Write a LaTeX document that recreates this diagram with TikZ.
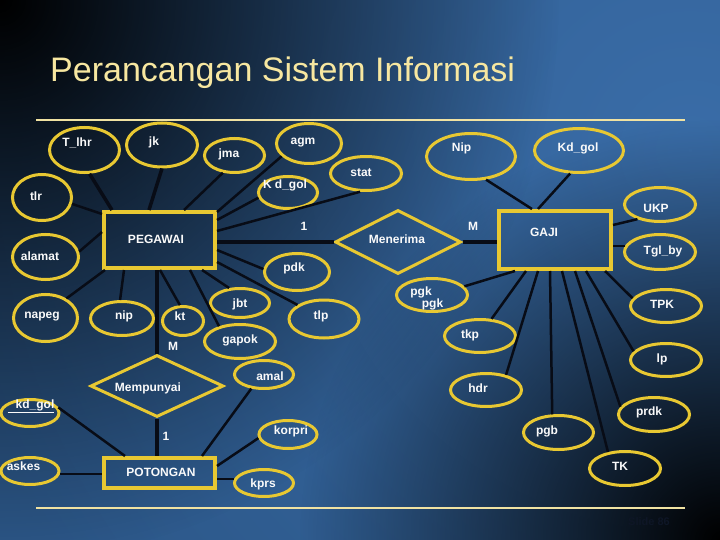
\documentclass[tikz,border=0pt]{standalone}
\usepackage{fontspec}
\setmainfont{Liberation Sans}
\usetikzlibrary{shapes.geometric,fadings,calc}
\definecolor{bgblue}{HTML}{2C5788}
\definecolor{bglight}{HTML}{3A6DA8}
\definecolor{ered}{HTML}{E8C832}
\definecolor{titlecol}{HTML}{F7E7A0}
\definecolor{rulecol}{HTML}{F0E2A2}
\definecolor{linecol}{HTML}{080C16}
\definecolor{slidecol}{HTML}{0E1626}
\tikzfading[name=radfade, inner color=transparent!0, outer color=transparent!100]
\tikzset{
  attr/.style={ellipse, draw=ered, line width=3pt, inner sep=0pt},
  ent/.style={rectangle, draw=ered, line width=4pt, inner sep=0pt},
  rel/.style={diamond, draw=ered, line width=3pt, inner sep=0pt},
  txt/.style={text=white!96!gray, font=\bfseries\fontsize{12}{14}\selectfont, inner sep=0pt},
  conn/.style={draw=linecol, line width=2.5pt},
  thickconn/.style={draw=linecol, line width=4pt},
  rulestyle/.style={draw=rulecol, line width=2pt}
}
\begin{document}
\begin{tikzpicture}[x=1pt,y=-1pt]
\useasboundingbox (0,0) rectangle (720,540);
% background
\fill[bgblue] (0,0) rectangle (720,540);
\begin{scope}
\clip (0,0) rectangle (720,540);
\fill[bglight, path fading=radfade] (690,150) circle[radius=760pt];
\fill[black, path fading=radfade] (0,0) circle[radius=560pt];
\fill[black, path fading=radfade] (720,540) circle[radius=420pt];
\end{scope}
% title and rules
\node[anchor=base west, text=titlecol, font=\fontsize{34}{40}\selectfont, inner sep=0pt] (title) at (50,82) {Perancangan Sistem Informasi};
\coordinate (r1a) at (36,120); \coordinate (r1b) at (685,120);
\coordinate (r2a) at (36,508); \coordinate (r2b) at (685,508);
\draw[rulestyle] (r1a) -- (r1b);
\draw[rulestyle] (r2a) -- (r2b);
\node[text=slidecol, font=\bfseries\fontsize{11}{13}\selectfont, inner sep=0pt] (slide) at (649,522) {Slide 86};

% entities
\node[ent, minimum width=111pt, minimum height=56pt] (pegawai) at (159.5,240) {};
\node[ent, minimum width=111pt, minimum height=30pt] (potongan) at (159.5,473) {};
\node[ent, minimum width=112pt, minimum height=58pt] (gaji) at (555,240) {};
% relationships
\node[rel, minimum width=126pt, minimum height=64pt] (menerima) at (398,242) {};
\node[rel, minimum width=133pt, minimum height=62pt] (mempunyai) at (157,386) {};
% attributes
\node[attr, minimum width=70pt, minimum height=45pt] (tlhr) at (84.5,150) {};
\node[attr, minimum width=71pt, minimum height=44pt] (jk) at (162,145) {};
\node[attr, minimum width=60pt, minimum height=34pt] (jma) at (234.5,155.5) {};
\node[attr, minimum width=65pt, minimum height=40pt] (agm) at (309,143.5) {};
\node[attr, minimum width=59pt, minimum height=32pt] (kdgolA) at (288,192.5) {};
\node[attr, minimum width=71pt, minimum height=34pt] (stat) at (366,173.5) {};
\node[attr, minimum width=59pt, minimum height=46pt] (tlr) at (42,197.5) {};
\node[attr, minimum width=66pt, minimum height=45pt] (alamat) at (45.5,257) {};
\node[attr, minimum width=65pt, minimum height=37pt] (pdk) at (297,272) {};
\node[attr, minimum width=70pt, minimum height=38pt] (tlp) at (324,319) {};
\node[attr, minimum width=64pt, minimum height=47pt] (napeg) at (45.5,318) {};
\node[attr, minimum width=63pt, minimum height=34pt] (nip) at (122,318.5) {};
\node[attr, minimum width=41pt, minimum height=29pt] (kt) at (183,321) {};
\node[attr, minimum width=71pt, minimum height=34pt] (gapok) at (240,341.5) {};
\node[attr, minimum width=59pt, minimum height=29pt] (jbt) at (240,303) {};
\node[attr, minimum width=59pt, minimum height=28pt] (amal) at (264,374.5) {};
\node[attr, minimum width=58pt, minimum height=27pt] (kdgolB) at (30,413) {};
\node[attr, minimum width=58pt, minimum height=27pt] (askes) at (30,471) {};
\node[attr, minimum width=58pt, minimum height=28pt] (korpri) at (288,434.5) {};
\node[attr, minimum width=59pt, minimum height=27pt] (kprs) at (264,483) {};
\node[attr, minimum width=71pt, minimum height=33pt] (pgk) at (432,295) {};
\node[attr, minimum width=89pt, minimum height=46pt] (nipG) at (471,156.5) {};
\node[attr, minimum width=89pt, minimum height=44pt] (kdgolC) at (579,150.5) {};
\node[attr, minimum width=71pt, minimum height=34pt] (ukp) at (660,204.5) {};
\node[attr, minimum width=71pt, minimum height=35pt] (tglby) at (660,252) {};
\node[attr, minimum width=71pt, minimum height=33pt] (tkp) at (480,336) {};
\node[attr, minimum width=71pt, minimum height=33pt] (hdr) at (486,390) {};
\node[attr, minimum width=71pt, minimum height=33pt] (tpk) at (666,306) {};
\node[attr, minimum width=71pt, minimum height=33pt] (lp) at (666,360) {};
\node[attr, minimum width=71pt, minimum height=34pt] (prdk) at (654,414.5) {};
\node[attr, minimum width=70pt, minimum height=34pt] (pgb) at (558.5,432.5) {};
\node[attr, minimum width=71pt, minimum height=34pt] (tk) at (625,468.5) {};

% texts
\node[txt] (tPegawai) at (156,239) {PEGAWAI};
\node[txt] (tPotongan) at (161,472.5) {POTONGAN};
\node[txt] (tGaji) at (544,232.5) {GAJI};
\node[txt] (tMenerima) at (397,239) {Menerima};
\node[txt] (tMempunyai) at (148,388) {Mempunyai};
\node[txt] (tTlhr) at (77,142.5) {T\_lhr};
\node[txt] (tJk) at (154,142.5) {jk};
\node[txt] (tJma) at (229,154.5) {jma};
\node[txt] (tAgm) at (303,142.5) {agm};
\node[txt] (tKdgolA) at (285,185) {K d\_gol};
\node[txt] (tStat) at (361,172.5) {stat};
\node[txt] (tTlr) at (36,196.5) {tlr};
\node[txt] (tAlamat) at (40,256) {alamat};
\node[txt] (tPdk) at (294,268.5) {pdk};
\node[txt] (tTlp) at (321,316.5) {tlp};
\node[txt] (tNapeg) at (42,316.5) {napeg};
\node[txt] (tNip) at (124,316.5) {nip};
\node[txt] (tKt) at (180,316.5) {kt};
\node[txt] (tGapok) at (240,340.5) {gapok};
\node[txt] (tJbt) at (240,304) {jbt};
\node[txt] (tAmal) at (270,376.5) {amal};
\node[txt] (tKdgolB) at (31,406.5) {\underline{\hspace{8pt}kd\_gol}};
\node[txt] (tAskes) at (23.5,466.5) {askes};
\node[txt] (tKorpri) at (291,431) {korpri};
\node[txt] (tKprs) at (263,484) {kprs};
\node[txt] (tPgk1) at (421,292.5) {pgk};
\node[txt] (tPgk2) at (432.5,304.5) {pgk};
\node[txt] (tNipG) at (461.5,148.5) {Nip};
\node[txt] (tKdgolC) at (578,148.5) {Kd\_gol};
\node[txt] (tUkp) at (656,208) {UKP};
\node[txt] (tTglby) at (663,251) {Tgl\_by};
\node[txt] (tTkp) at (470,335) {tkp};
\node[txt] (tHdr) at (478,388.5) {hdr};
\node[txt] (tTpk) at (662,304.5) {TPK};
\node[txt] (tLp) at (662,359) {lp};
\node[txt] (tPrdk) at (649,412.5) {prdk};
\node[txt] (tPgb) at (547,431) {pgb};
\node[txt] (tTk) at (620,466.5) {TK};
\node[txt] (c1) at (304,226.5) {1};
\node[txt] (cM1) at (473,226.5) {M};
\node[txt] (cM2) at (173,346.5) {M};
\node[txt] (c2) at (166,436) {1};

% connectors: PEGAWAI
\draw[thickconn, line width=3.5pt] (tlhr.282) -- ([xshift=10pt]pegawai.north west);
\draw[thickconn, line width=3.5pt] (jk.270) -- ([xshift=47pt]pegawai.north west);
\draw[conn] (jma.236) -- ([xshift=82pt]pegawai.north west);
\draw[conn] (agm.205) -- ([yshift=-2pt]pegawai.north east);
\draw[conn] (kdgolA.190) -- ([yshift=-10pt]pegawai.north east);
\draw[conn] (stat.252) -- ([yshift=-21pt]pegawai.north east);
\draw[conn] (pdk.175) -- ([yshift=-40pt]pegawai.north east);
\draw[conn] (tlp.152) -- ([yshift=-52pt]pegawai.north east);
\draw[conn] (tlr.348) -- ([yshift=-4pt]pegawai.north west);
\draw[conn] (alamat.9) -- ([yshift=-22pt]pegawai.north west);
\draw[conn] (napeg.43) -- ([xshift=3pt]pegawai.south west);
\draw[conn] (nip.96) -- ([xshift=22pt]pegawai.south west);
\draw[conn] (kt.101) -- ([xshift=58pt]pegawai.south west);
\draw[conn] (gapok.144) -- ([xshift=88pt]pegawai.south west);
\draw[conn] (jbt.126) -- ([xshift=100pt]pegawai.south west);
\draw[thickconn] (pegawai.east |- menerima.west) -- (menerima.west);
\draw[thickconn] (mempunyai.north |- pegawai.south) -- (mempunyai.north);
% POTONGAN
\draw[thickconn] (mempunyai.south) -- (mempunyai.south |- potongan.north);
\draw[conn] (kdgolB.11) -- ([xshift=23pt]potongan.north west);
\draw[conn] (amal.228) -- ([xshift=100pt]potongan.north west);
\draw[conn] (korpri.187) -- ([yshift=-10pt]potongan.north east);
\draw[conn] (kprs.172) -- (kprs.172 -| potongan.east);
\draw[conn] (askes.354) -- (askes.354 -| potongan.west);
% GAJI
\draw[thickconn] (menerima.east) -- (menerima.east -| gaji.west);
\draw[conn] (nipG.303) -- ([xshift=35pt]gaji.north west);
\draw[conn] (kdgolC.249) -- ([xshift=41pt]gaji.north west);
\draw[conn] (ukp.213) -- ([yshift=-16pt]gaji.north east);
\draw[conn] (tglby.170) -- (tglby.170 -| gaji.east);
\draw[conn] (pgk.15) -- ([xshift=18pt]gaji.south west);
\draw[conn] (tkp.56) -- ([xshift=29pt]gaji.south west);
\draw[conn] (hdr.37) -- ([xshift=41pt]gaji.south west);
\draw[conn] (pgb.109) -- ([xshift=53pt]gaji.south west);
\draw[conn] (tk.136) -- ([xshift=65pt]gaji.south west);
\draw[conn] (prdk.167) -- ([xshift=78pt]gaji.south west);
\draw[conn] (lp.165) -- ([xshift=89pt]gaji.south west);
\draw[conn] (tpk.167) -- ([xshift=108pt]gaji.south west);
\end{tikzpicture}
\end{document}
